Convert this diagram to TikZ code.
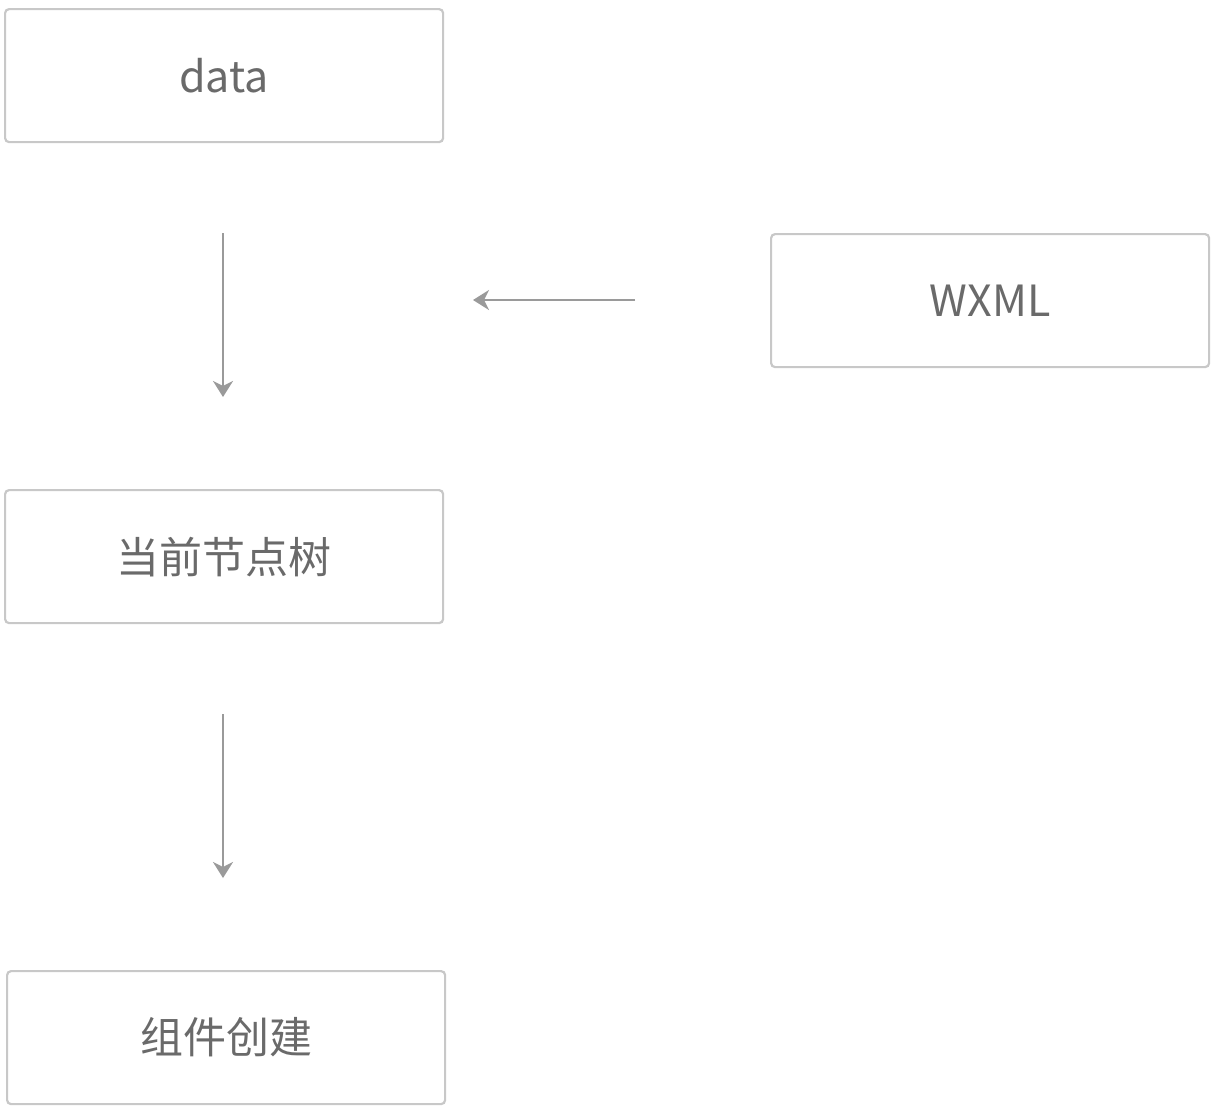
\documentclass[tikz,border=0pt]{standalone}
\usepackage{fontspec}
\setmainfont{Noto Sans CJK SC}
\usetikzlibrary{arrows.meta}
\definecolor{boxline}{HTML}{C8C8C8}
\definecolor{txt}{HTML}{6A6A6A}
\definecolor{arr}{HTML}{9A9A9A}
\tikzset{
  box/.style={draw=boxline, line width=2.2pt, rounded corners=4pt, minimum width=438pt, minimum height=133pt, inner sep=0pt, text=txt, font=\fontsize{43}{48}\selectfont, anchor=north west},
  conn/.style={draw=arr, line width=2.4pt, -{Stealth[length=16pt,width=20pt,inset=5pt]}}
}
\begin{document}
\begin{tikzpicture}[x=1pt,y=-1pt]
\useasboundingbox (0,0) rectangle (1214,1112);
\node[box] (data) at (4,8) {data};
\node[box] (wxml) at (770,233) {WXML};
\node[box] (tree) at (4,489) {当前节点树};
\node[box] (comp) at (6,970) {组件创建};
\coordinate (a1s) at (223,233);
\coordinate (a1e) at (223,397);
\coordinate (a2s) at (635,300);
\coordinate (a2e) at (473,300);
\coordinate (a3s) at (223,714);
\coordinate (a3e) at (223,878);
\draw[conn] (a1s) -- (a1e);
\draw[conn] (a2s) -- (a2e);
\draw[conn] (a3s) -- (a3e);
\end{tikzpicture}
\end{document}
